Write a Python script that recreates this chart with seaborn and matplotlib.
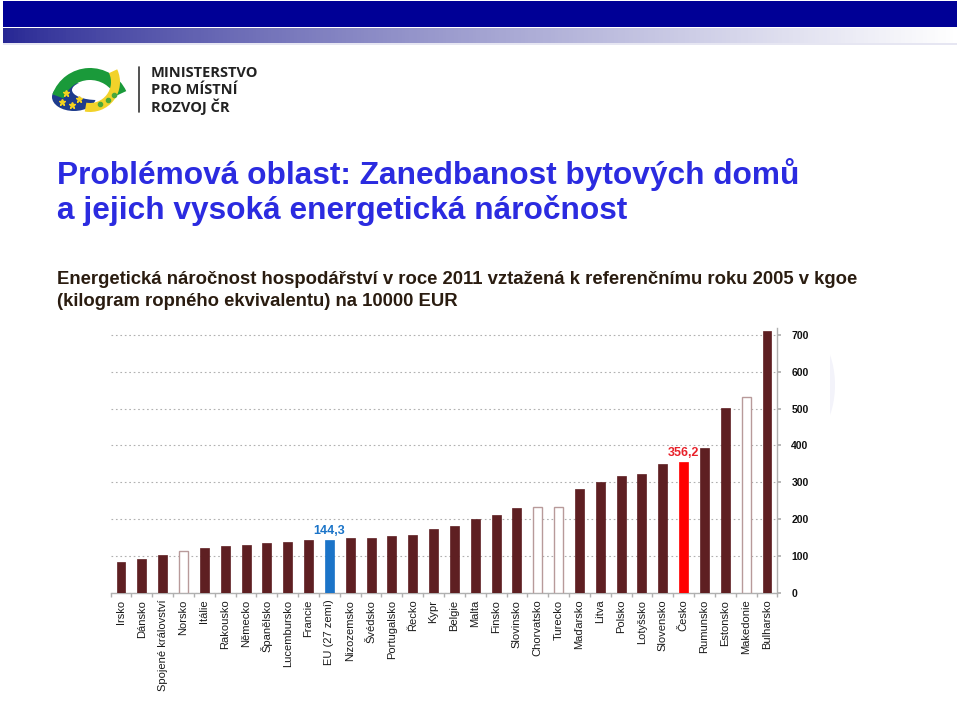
import matplotlib
matplotlib.use("Agg")
import matplotlib.pyplot as plt
import matplotlib.patches as mpatches
import numpy as np
import pandas as pd
import seaborn as sns

sns.set_theme(style="white")
plt.rcParams['font.family'] = ['Liberation Sans', 'DejaVu Sans']

# ---------------- data ----------------
countries = ["Irsko", "Dánsko", "Spojené království", "Norsko", "Itálie", "Rakousko",
             "Německo", "Španělsko", "Lucembursko", "Francie", "EU (27 zemí)",
             "Nizozemsko", "Švédsko", "Portugalsko", "Řecko", "Kypr", "Belgie",
             "Malta", "Finsko", "Slovinsko", "Chorvatsko", "Turecko", "Maďarsko",
             "Litva", "Polsko", "Lotyšsko", "Slovensko", "Česko", "Rumunsko",
             "Estonsko", "Makedonie", "Bulharsko"]
values = [83, 91, 103, 112, 121, 126, 130, 136, 138, 144, 144.3,
          148, 149, 154, 156, 174, 181, 201, 212, 231, 232, 232, 283,
          301, 318, 323, 349, 356.2, 392, 502, 531, 712]
# bar kind: 'std' member state, 'non' non-EU (hollow), 'eu' EU average, 'cz' Czech Republic
kinds = ["std", "std", "std", "non", "std", "std", "std", "std", "std", "std", "eu",
         "std", "std", "std", "std", "std", "std", "std", "std", "std", "non", "non",
         "std", "std", "std", "std", "std", "cz", "std", "std", "non", "std"]
highlight_labels = {"EU (27 zemí)": "144,3", "Česko": "356,2"}
y_ticks = [0, 100, 200, 300, 400, 500, 600, 700]

kind_face = {"std": "#5e1f22", "non": "#ffffff", "eu": "#1b74c8", "cz": "#ff0000"}
kind_edge = {"std": "#5e1f22", "non": "#b89a9a", "eu": "#1b74c8", "cz": "#ff0000"}
label_color = {"EU (27 zemí)": "#1b74c8", "Česko": "#e8212a"}

df = pd.DataFrame({"country": countries, "value": values, "kind": kinds})

W, H = 960, 716
fig = plt.figure(figsize=(W / 100, H / 100), dpi=100)

# ---------------- background / decoration layer (pixel coords) ----------------
bg = fig.add_axes([0, 0, 1, 1], zorder=0)
bg.set_xlim(0, W)
bg.set_ylim(H, 0)
bg.axis("off")

# faint decorative shape to the right of the chart
bg.add_patch(mpatches.Ellipse((795, 385), 80, 125, facecolor="#f3f3fa", edgecolor="none"))
bg.add_patch(mpatches.Rectangle((95, 318), 735, 372, facecolor="white", edgecolor="none"))

# header bar
bg.add_patch(mpatches.Rectangle((3, 1), 954, 26, facecolor="#000096", edgecolor="none"))
grad = np.linspace(0, 1, 256)
c0 = np.array([0.15, 0.15, 0.58])
c1 = np.array([1.0, 1.0, 1.0])
img = (c0[None, :] * (1 - grad[:, None] ** 0.8) + c1[None, :] * grad[:, None] ** 0.8)[None, :, :]
bg.imshow(img, extent=(3, 957, 43, 28), aspect="auto", zorder=1)
bg.add_patch(mpatches.Rectangle((3, 43), 954, 2, facecolor="#e6e6f2", edgecolor="none", zorder=1))

# logo (y axis inverted: angles 180..360 are the upper half on screen)
bg.add_patch(mpatches.Ellipse((74, 97), 44, 28, facecolor="#1e3c8c", edgecolor="none", zorder=2))
bg.add_patch(mpatches.Ellipse((97, 90), 50, 20, facecolor="white", edgecolor="none", zorder=3))
bg.add_patch(mpatches.Wedge((90, 108), 40, 200, 335, width=12, facecolor="#1a9a3a", edgecolor="none", zorder=4))
bg.add_patch(mpatches.Wedge((90, 82), 30, -25, 100, width=9, facecolor="#f2d22a", edgecolor="none", zorder=4))
for (gx, gy) in [(108, 100), (114, 95), (100, 104)]:
    bg.plot(gx, gy, marker="o", color="#4aa83a", markersize=3, zorder=5)
for (sx, sy) in [(66, 93), (62, 102), (72, 105), (79, 99)]:
    bg.plot(sx, sy, marker="*", color="#f4d21e", markersize=5, zorder=5)
bg.plot([139, 139], [67, 112], color="#333333", lw=1.2)
for i, t in enumerate(["MINISTERSTVO", "PRO MÍSTNÍ", "ROZVOJ ČR"]):
    bg.text(151, 73 + i * 17, t, fontsize=10.5, fontweight="bold", color="#222222",
            family=["Open Sans", "DejaVu Sans"], va="center", ha="left")

# titles
bg.text(57, 175, "Problémová oblast: Zanedbanost bytových domů", fontsize=22.8, fontweight="bold",
        color="#2b2be0", va="center", ha="left")
bg.text(57, 210, "a jejich vysoká energetická náročnost", fontsize=22.8, fontweight="bold",
        color="#2b2be0", va="center", ha="left")
bg.text(57, 279, "Energetická náročnost hospodářství v roce 2011 vztažená k referenčnímu roku 2005 v kgoe",
        fontsize=13.3, fontweight="bold", color="#2a1c10", va="center", ha="left")
bg.text(57, 301, "(kilogram ropného ekvivalentu) na 10000 EUR",
        fontsize=13.3, fontweight="bold", color="#2a1c10", va="center", ha="left")

# ---------------- chart ----------------
left, right = 110.6, 777.4
bottom_px, top_px = 592.7, 327.7
ax = fig.add_axes([left / W, 1 - bottom_px / H, (right - left) / W, (bottom_px - top_px) / H], zorder=2)
ax.patch.set_alpha(0)

palette = {c: kind_face[k] for c, k in zip(countries, kinds)}
sns.barplot(data=df, x="country", y="value", hue="country", palette=palette, legend=False,
            width=0.43, ax=ax, saturation=1, zorder=3)
for patch, k in zip(ax.patches, kinds):
    patch.set_edgecolor(kind_edge[k])
    patch.set_linewidth(1.0 if k == "non" else 0.5)

for i, c in enumerate(countries):
    if c in highlight_labels:
        ax.text(i, values[i] + 8, highlight_labels[c], ha="center", va="bottom", fontsize=9,
                fontweight="bold", color=label_color[c], zorder=4)

ax.set_xlim(-0.5, len(countries) - 0.5)
ax.set_ylim(0, 720)
ax.set_yticks(y_ticks)
ax.yaxis.tick_right()
ax.yaxis.grid(True, linestyle=(0, (1.5, 2.5)), color="#b0b0b0", linewidth=0.8, zorder=0)
ax.set_axisbelow(True)
ax.set_xlabel("")
ax.set_ylabel("")
for s in ["top", "left"]:
    ax.spines[s].set_visible(False)
for s in ["right", "bottom"]:
    ax.spines[s].set_visible(True)
    ax.spines[s].set_color("#b0b0b0")
    ax.spines[s].set_linewidth(1.0)

ax.tick_params(axis="y", which="major", right=True, left=False, length=3, color="#b0b0b0",
               pad=7, labelsize=7.5, labelcolor="#111111")
for lab in ax.get_yticklabels():
    lab.set_fontweight("bold")

ax.set_xticks(range(len(countries)))
ax.set_xticks(np.arange(-0.5, len(countries), 1.0), minor=True)
ax.tick_params(axis="x", which="major", length=0, pad=5)
ax.tick_params(axis="x", which="minor", bottom=True, length=3, color="#b0b0b0")
ax.set_xticklabels(countries, rotation=90, fontsize=8, color="#1a1a1a",
                   family=["Liberation Sans Narrow", "Liberation Sans", "DejaVu Sans"])

fig.savefig("out.png", dpi=100)
